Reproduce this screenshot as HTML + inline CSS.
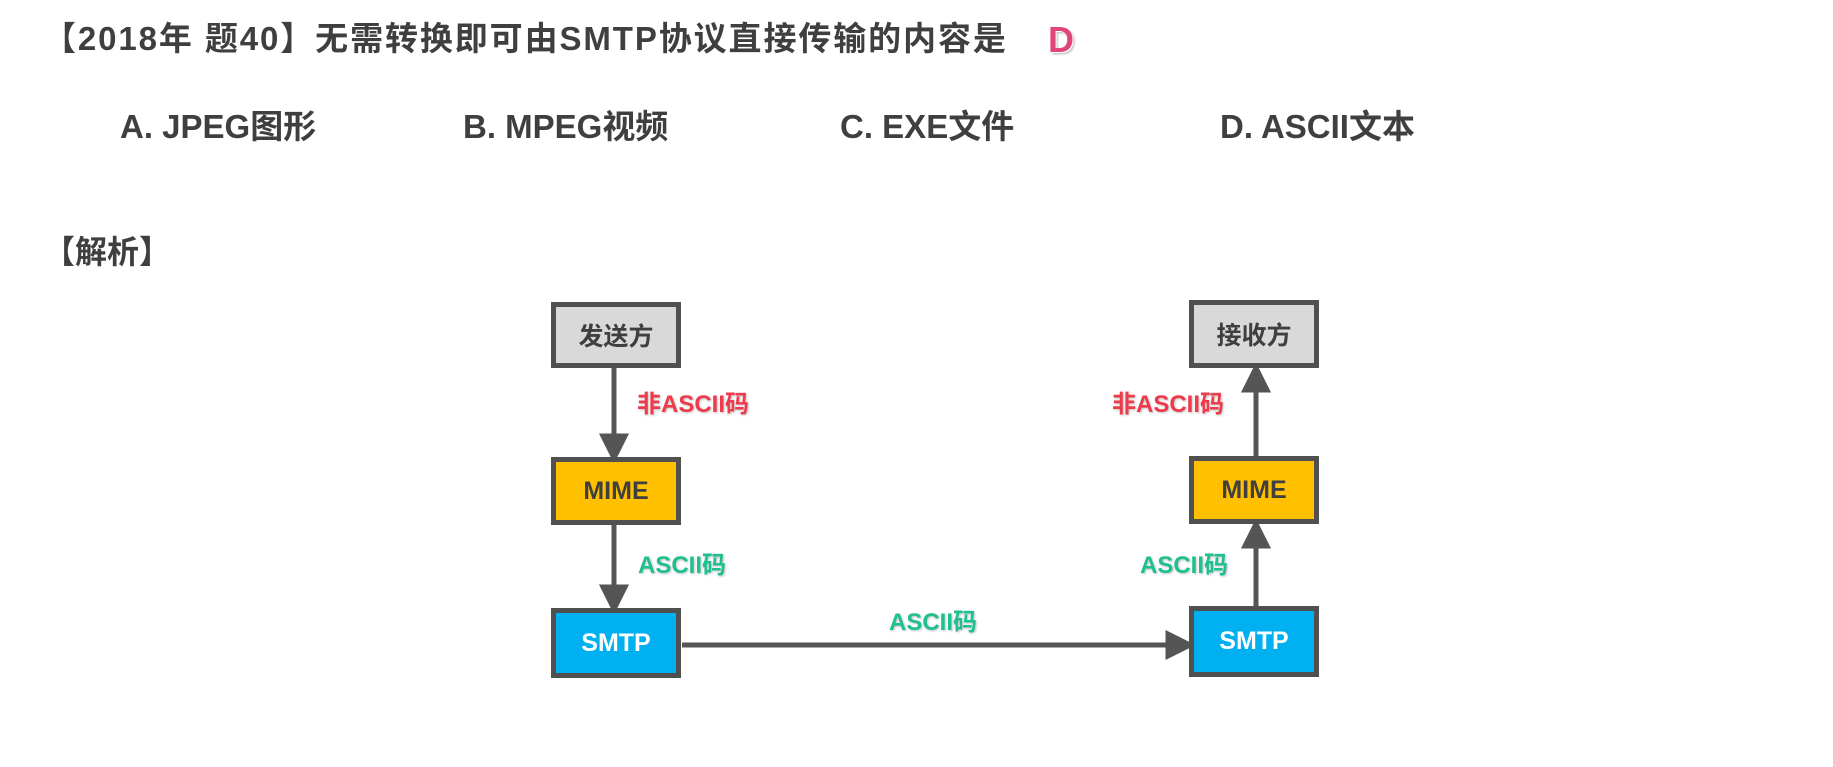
<!DOCTYPE html>
<html><head><meta charset="utf-8"><style>
body{margin:0;width:1833px;height:767px;background:#fff;position:relative;overflow:hidden;font-family:"Liberation Sans","Noto Sans CJK SC",sans-serif;font-weight:bold;color:#3f3f3f}
.t{position:absolute;white-space:nowrap;line-height:1}
.box{position:absolute;box-sizing:border-box;border:5px solid #505050;display:flex;align-items:center;justify-content:center;font-size:25px}
.lab{position:absolute;white-space:nowrap;font-size:24px;line-height:1;text-shadow:1px 1px 2px rgba(0,0,0,.25)}
</style></head><body>
<div class="t" style="left:43px;top:22px;font-size:33px;letter-spacing:1.9px">【2018年 题40】无需转换即可由SMTP协议直接传输的内容是</div>
<div class="t" style="left:1048px;top:22px;font-size:36px;color:#e2457c;text-shadow:1px 1px 0 #fff,2px 2px 2px rgba(0,0,0,.3)">D</div>
<div class="t" style="left:120px;top:110px;font-size:33px;">A. JPEG图形</div>
<div class="t" style="left:463px;top:110px;font-size:33px;">B. MPEG视频</div>
<div class="t" style="left:840px;top:110px;font-size:33px;">C. EXE文件</div>
<div class="t" style="left:1220px;top:110px;font-size:33px;">D. ASCII文本</div>
<div class="t" style="left:43px;top:236px;font-size:32px;">【解析】</div>
<svg style="position:absolute;left:0;top:0" width="1833" height="767">
<g stroke="#555" stroke-width="5" fill="#555">
<line x1="614" y1="368" x2="614" y2="440"/><polygon points="603,436 625,436 614,458"/>
<line x1="614" y1="525" x2="614" y2="590"/><polygon points="603,587 625,587 614,609"/>
<line x1="682" y1="645" x2="1170" y2="645"/><polygon points="1168,634 1168,656 1190,645"/>
<line x1="1256" y1="607" x2="1256" y2="543"/><polygon points="1245,546 1267,546 1256,524"/>
<line x1="1256" y1="457" x2="1256" y2="386"/><polygon points="1245,390 1267,390 1256,368"/>
</g></svg>
<div class="box" style="left:551px;top:302px;width:130px;height:66px;background:#d9d9d9">发送方</div>
<div class="box" style="left:551px;top:457px;width:130px;height:68px;background:#ffc000">MIME</div>
<div class="box" style="left:551px;top:608px;width:130px;height:70px;background:#00b0f0;color:#fff">SMTP</div>
<div class="box" style="left:1189px;top:300px;width:130px;height:68px;background:#d9d9d9">接收方</div>
<div class="box" style="left:1189px;top:456px;width:130px;height:68px;background:#ffc000">MIME</div>
<div class="box" style="left:1189px;top:606px;width:130px;height:71px;background:#00b0f0;color:#fff">SMTP</div>
<div class="lab" style="left:637px;top:393px;color:#ee3a4a">非ASCII码</div>
<div class="lab" style="left:1112px;top:393px;color:#ee3a4a">非ASCII码</div>
<div class="lab" style="left:638px;top:554px;color:#1ec08f">ASCII码</div>
<div class="lab" style="left:1140px;top:554px;color:#1ec08f">ASCII码</div>
<div class="lab" style="left:889px;top:611px;color:#1ec08f">ASCII码</div>
</body></html>
